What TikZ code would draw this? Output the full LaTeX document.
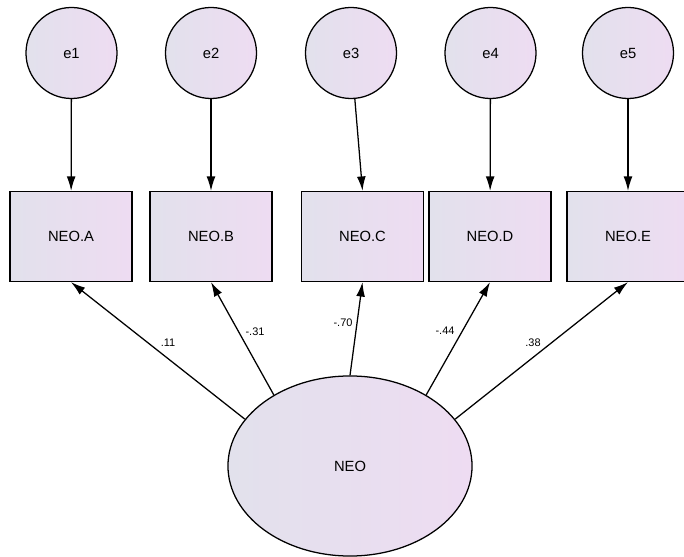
\documentclass[tikz,border=0pt]{standalone}
\usepackage{fontspec}
\setmainfont{Liberation Sans}
\usetikzlibrary{arrows.meta}
\usetikzlibrary{shapes.geometric}
\definecolor{fillleft}{HTML}{E2E1EC}
\definecolor{fillright}{HTML}{EEDCF2}
\tikzstyle{amosfill}=[draw=black, line width=0.9pt, left color=fillleft, right color=fillright]
\tikzstyle{observed}=[amosfill, rectangle, minimum width=3.05cm, minimum height=2.25cm, inner sep=0pt, font=\fontsize{10.5}{12}\selectfont]
\tikzstyle{error}=[amosfill, circle, minimum size=2.275cm, inner sep=0pt, font=\fontsize{10.5}{12}\selectfont]
\tikzstyle{latent}=[amosfill, ellipse, minimum width=6.1cm, minimum height=4.5cm, inner sep=0pt, font=\fontsize{10.5}{12}\selectfont]
\tikzstyle{regpath}=[line width=0.9pt, -{Latex[length=0.36cm, width=0.22cm]}]
\tikzstyle{coef}=[font=\fontsize{7.8}{9}\selectfont, inner sep=1pt]

\begin{document}
\begin{tikzpicture}[x=0.025cm, y=-0.025cm]
		\clip (0, 0) rectangle (684, 557);
		\fill[white] (0, 0) rectangle (684, 557);
		% error terms
		\node(e1)[error] at (71.5, 53) {e1};
		\node(e2)[error] at (211, 53) {e2};
		\node(e3)[error] at (351, 53) {e3};
		\node(e4)[error] at (490.5, 53) {e4};
		\node(e5)[error] at (628, 53) {e5};
		% observed variables
		\node(neoa)[observed] at (71, 236.5) {NEO.A};
		\node(neob)[observed] at (211, 236.5) {NEO.B};
		\node(neoc)[observed] at (362.5, 236.5) {NEO.C};
		\node(neod)[observed] at (490, 236.5) {NEO.D};
		\node(neoe)[observed] at (628, 236.5) {NEO.E};
		% latent factor
		\node(neo)[latent] at (350, 466) {NEO};
		\draw[regpath] (e1) -- (neoa);
		\draw[regpath] (e2) -- (neob);
		\draw[regpath] (e3) -- (neoc.north);
		\draw[regpath] (e4) -- (neod);
		\draw[regpath] (e5) -- (neoe);
		\draw[regpath] (neo.156.5) -- (neoa.south);
		\draw[regpath] (neo.137) -- (neob.south);
		\draw[regpath] (neo.90) -- (neoc.south);
		\draw[regpath] (neo.43.5) -- (neod.south);
		\draw[regpath] (neo.24) -- (neoe.south);
		\node(ca)[coef] at (168, 343) {.11};
		\node(cb)[coef] at (255, 332) {-.31};
		\node(cc)[coef] at (343, 323) {-.70};
		\node(cd)[coef] at (445, 331) {-.44};
		\node(ce)[coef] at (533, 343) {.38};
\end{tikzpicture}
\end{document}
